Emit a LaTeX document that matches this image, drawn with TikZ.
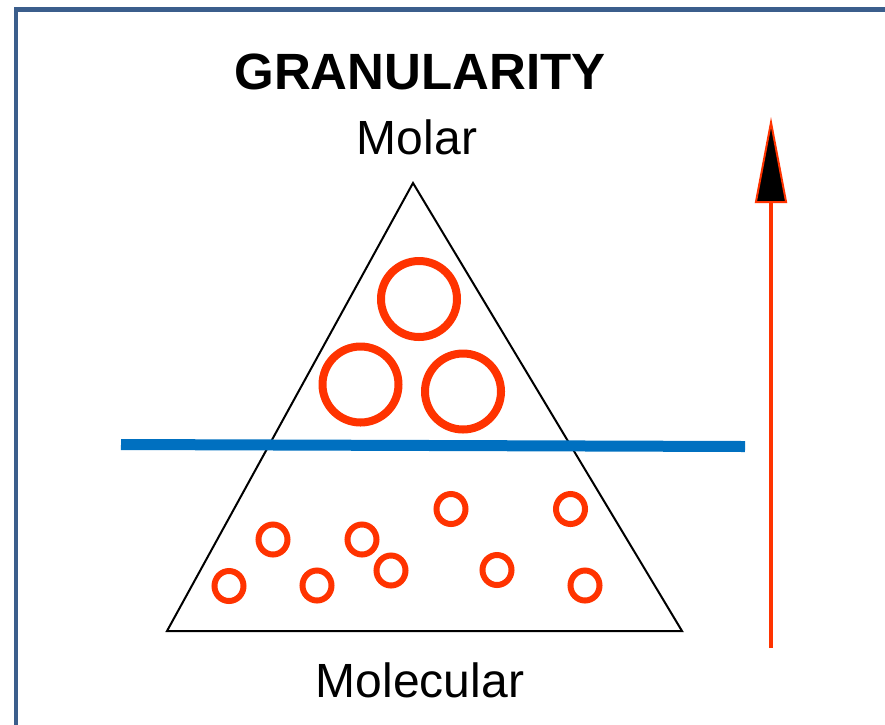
\documentclass[tikz,border=0pt]{standalone}
\usepackage{fontspec}
\setmainfont{Liberation Sans}
\usetikzlibrary{arrows.meta}
\definecolor{framec}{RGB}{59,94,140}
\definecolor{bluec}{RGB}{0,112,192}
\definecolor{redc}{RGB}{255,51,0}
\tikzset{
  bigring/.style={draw=redc,line width=8pt},
  smallring/.style={draw=redc,line width=6pt},
  lbl/.style={inner sep=0pt,anchor=base,font=\fontsize{48}{56}\selectfont},
  ttl/.style={inner sep=0pt,anchor=base,font=\fontsize{51}{60}\selectfont\bfseries}
}
\begin{document}
\begin{tikzpicture}[x=1pt,y=-1pt]
\useasboundingbox (0,0) rectangle (885,724);
\begin{scope}
\clip (0,0) rectangle (885,724);
\draw[framec,line width=4.5pt] (15.75,9.5) rectangle (920,760);
\end{scope}
% title and labels
\node[ttl] (title) at (420,89) {GRANULARITY};
\node[lbl] (molar) at (417,154.3) {Molar};
\node[lbl] (molecular) at (420,697) {Molecular};
% pyramid
\coordinate (apex) at (413,183);
\coordinate (bl) at (167,631);
\coordinate (br) at (682,631);
\draw[black,line width=2pt,line join=miter] (apex) -- (bl) -- (br) -- cycle;
% big rings
\draw[bigring] (419,299) circle (38);
\draw[bigring] (360.5,384.5) circle (38);
\draw[bigring] (463,391.5) circle (38);
% small rings
\foreach \cx/\cy in {273/539.5, 229/586, 317/585.5, 362/539.5, 391/570.5, 451/509, 570.5/509, 497/570, 585/585.5}
  \draw[smallring] (\cx,\cy) ellipse [x radius=14.5, y radius=15];
% blue divider
\coordinate (divl) at (121,444.5);
\coordinate (divr) at (745,446.5);
\draw[bluec,line width=11pt] (divl) -- (divr);
% arrow
\coordinate (arrowbot) at (771,648);
\coordinate (arrowtop) at (771,117);
\draw[redc,line width=3.5pt,-{Triangle[length=86pt,width=32pt,fill=black,line width=2pt]}] (arrowbot) -- (arrowtop);
\end{tikzpicture}
\end{document}
